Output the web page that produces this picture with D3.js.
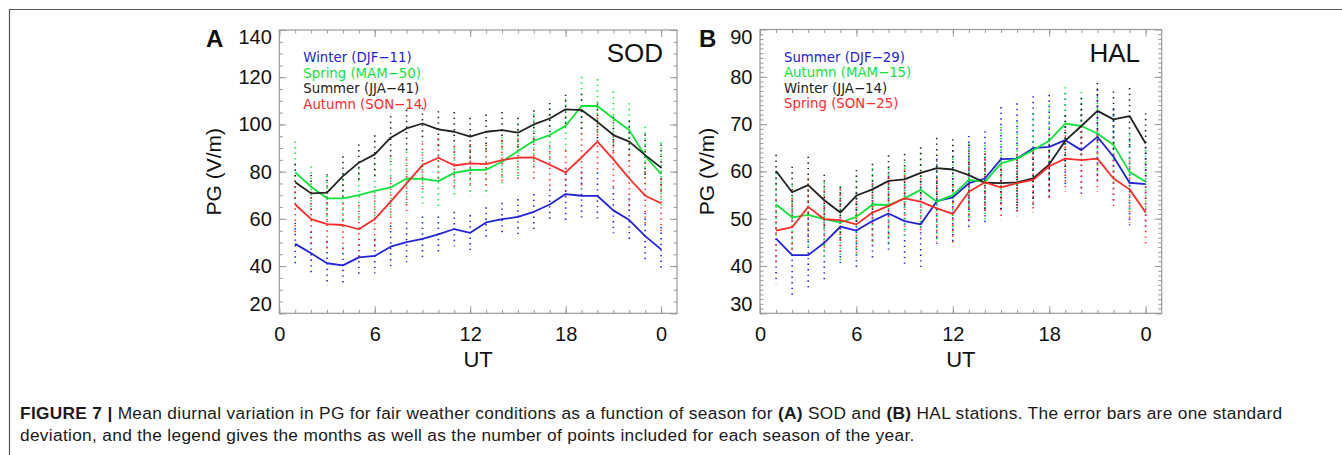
<!DOCTYPE html>
<html>
<head>
<meta charset="utf-8">
<script src="https://cdn.jsdelivr.net/npm/d3@7"></script>
<style>
  body { margin: 0; background: #fff; }
  svg { display: block; }
  .tick text { font-family: "Liberation Sans", Arial, sans-serif; font-size: 20px; fill: #111; }
</style>
</head>
<body>
<svg id="fig" width="1342" height="455"></svg>
<script>
// hours of the day (UT) at which the means are given
var hours = [1, 2, 3, 4, 5, 6, 7, 8, 9, 10, 11, 12, 13, 14, 15, 16, 17, 18, 19, 20, 21, 22, 23, 24];

// SOD station, PG (V/m)
var sodWinter = [49.4, 45.4, 41.2, 40.3, 43.7, 44.3, 48.2, 50.1, 51.5, 53.4, 55.7, 54.1, 58.5, 59.9, 60.8, 63.0, 66.1, 70.5, 69.8, 69.7, 63.6, 59.5, 52.7, 47.1];
var sodSpring = [79.7, 73.6, 68.7, 68.7, 70.1, 71.9, 73.3, 77.1, 76.9, 76.0, 79.5, 80.7, 80.8, 84.2, 88.7, 93.1, 95.5, 99.4, 107.8, 107.8, 102.5, 97.6, 86.6, 79.0];
var sodSummer = [75.5, 70.8, 71.1, 78.1, 83.8, 87.3, 94.4, 98.3, 100.4, 97.9, 96.9, 94.8, 96.9, 97.6, 96.5, 100.0, 102.5, 106.4, 106.1, 101.1, 95.5, 92.7, 87.0, 81.7];
var sodAutumn = [66.1, 59.9, 57.8, 57.4, 55.6, 59.9, 67.3, 75.0, 82.8, 85.9, 82.6, 83.5, 83.2, 84.9, 85.9, 86.0, 82.9, 79.7, 86.0, 92.7, 85.2, 77.1, 69.8, 66.6];
// SOD standard deviations
var sodWinterSd = [9, 9.2, 9.5, 7.6, 7.9, 7.3, 9, 8.5, 9.5, 7.6, 7.3, 7.5, 6.4, 6.9, 7.6, 7.5, 6.4, 11, 10.3, 10, 9.7, 9.2, 9.8, 9.5];
var sodSpringSd = [13.7, 9.2, 10, 11, 12, 12, 13, 12, 12, 12, 11, 11, 11, 11, 12, 12, 12, 12, 13, 12, 12, 12, 13, 14];
var sodSummerSd = [9, 9, 9, 9.6, 8.9, 9.3, 10.3, 9.2, 7.8, 8.9, 9.5, 9.2, 8.5, 8.8, 7.5, 7.2, 7.8, 7.4, 8, 9, 9, 10, 10, 11];
var sodAutumnSd = [12, 11, 11, 11, 12, 12, 12, 12, 11, 10, 10, 10, 10, 10, 10, 10, 10, 11, 12, 12, 12, 12, 12, 12];

// HAL station, PG (V/m)
var halSummer = [45.8, 42.3, 42.3, 44.9, 48.3, 47.5, 49.5, 51.1, 49.5, 48.8, 53.7, 54.5, 57.5, 58.5, 62.6, 62.7, 64.9, 65.2, 66.6, 64.5, 67.3, 63.1, 57.6, 57.3];
var halAutumn = [53.0, 50.3, 50.8, 49.9, 49.2, 50.4, 53.0, 52.9, 54.3, 56.1, 53.6, 55.0, 58.2, 57.8, 61.7, 62.7, 64.5, 66.5, 70.1, 69.6, 68.0, 65.6, 59.9, 57.8];
var halWinter = [60.1, 55.6, 57.1, 53.9, 51.3, 54.9, 56.2, 58.0, 58.3, 59.7, 60.7, 60.4, 59.2, 57.6, 57.5, 57.7, 58.5, 61.5, 66.5, 69.6, 72.8, 71.0, 71.7, 65.9];
var halSpring = [47.5, 48.2, 52.5, 49.9, 49.7, 48.8, 51.3, 52.7, 54.3, 53.6, 52.2, 51.0, 55.7, 57.7, 56.6, 57.5, 58.2, 61.1, 62.7, 62.4, 62.7, 58.5, 56.2, 51.3];
// HAL standard deviations
var halSummerSd = [9.5, 8.5, 7.7, 8, 8, 8, 8, 8, 9, 9, 9, 10, 10, 10, 11, 11.7, 11, 11, 10, 10, 10, 10, 9, 9];
var halAutumnSd = [7, 7, 7, 8, 8, 8, 8, 8, 8, 8, 8, 8, 8, 8, 8, 8, 8, 8, 8, 7.5, 8, 8, 8, 7];
var halWinterSd = [4, 6, 6.6, 6, 6, 6, 6, 6, 6, 6, 7, 7, 7, 6, 6, 6, 6, 6, 6, 6.5, 6.5, 6.5, 6.5, 7];
var halSpringSd = [7.5, 7, 7, 7, 7.5, 7, 7, 7, 7, 7, 7, 7, 7, 7, 7, 7, 7, 7.5, 7, 7, 7, 6, 7, 6.5];

// legends
var sodLabels = ["Winter (DJF\u221211)", "Spring (MAM\u221250)", "Summer (JJA\u221241)", "Autumn (SON\u221214)"];
var halLabels = ["Summer (DJF\u221229)", "Autumn (MAM\u221215)", "Winter (JJA\u221214)", "Spring (SON\u221225)"];

var xTicks = [0, 6, 12, 18, 24];
var xTickLabels = ["0", "6", "12", "18", "0"];
var sodYTicks = [20, 40, 60, 80, 100, 120, 140];
var halYTicks = [30, 40, 50, 60, 70, 80, 90];

var colors = ["#2323d8", "#12e23c", "#222222", "#ff2b2b"];

var svg = d3.select("#fig");
svg.append("rect").attr("width", 1342).attr("height", 455).attr("fill", "#fff");

// outer figure border (top + left)
svg.append("path").attr("d", "M9.5,455V9.5H1342").attr("fill", "none").attr("stroke", "#555").attr("stroke-width", 1.2);

function drawPanel(p) {
	var x = d3.scaleLinear().domain([0, 25]).range([p.left, p.right]);
	var y = d3.scaleLinear().domain(p.yDomain).range([p.bottom, p.top]);
	var g = svg.append("g");

	var minorX = d3.range(0, 25, 1);
	var minorY = d3.range(p.yDomain[0], p.yDomain[1], p.yMinor);

	// ticks on all four sides, pointing inwards
	var xs = [[d3.axisBottom, "translate(0," + p.bottom + ")"], [d3.axisTop, "translate(0," + p.top + ")"]];
	xs.forEach(function(a) {
		var gm = g.append("g").attr("transform", a[1]).call(a[0](x).tickValues(minorX).tickSize(-3.5).tickFormat(""));
		gm.select(".domain").remove();
		gm.selectAll("line").attr("stroke", "#999");
		var gM = g.append("g").attr("transform", a[1]).call(a[0](x).tickValues(xTicks).tickSize(-7).tickFormat(""));
		gM.select(".domain").remove();
		gM.selectAll("line").attr("stroke", "#999");
	});
	var ys = [[d3.axisLeft, "translate(" + p.left + ",0)"], [d3.axisRight, "translate(" + p.right + ",0)"]];
	ys.forEach(function(a) {
		var gm = g.append("g").attr("transform", a[1]).call(a[0](y).tickValues(minorY).tickSize(-3.5).tickFormat(""));
		gm.select(".domain").remove();
		gm.selectAll("line").attr("stroke", "#999");
		var gM = g.append("g").attr("transform", a[1]).call(a[0](y).tickValues(p.yTicks).tickSize(-7).tickFormat(""));
		gM.select(".domain").remove();
		gM.selectAll("line").attr("stroke", "#999");
	});

	// tick labels
	var bx = g.append("g").attr("transform", "translate(0," + p.bottom + ")")
		.call(d3.axisBottom(x).tickValues(xTicks).tickSize(0).tickPadding(13.5).tickFormat(function(d, i) { return xTickLabels[i]; }));
	bx.select(".domain").remove();

	var ly = g.append("g").attr("transform", "translate(" + p.left + ",0)")
		.call(d3.axisLeft(y).tickValues(p.yTicks).tickSize(0).tickPadding(7.5));
	ly.select(".domain").remove();
	// end labels kept inside the frame height
	ly.selectAll(".tick text").attr("dy", function(d) {
		if (d === p.yDomain[1]) return "0.68em";
		if (d === p.yDomain[0]) return "-0.15em";
		return "0.32em";
	});

	// frame
	g.append("rect").attr("x", p.left).attr("y", p.top)
		.attr("width", p.right - p.left).attr("height", p.bottom - p.top)
		.attr("fill", "none").attr("stroke", "#999").attr("stroke-width", 1.2);

	// dotted error bars, each series shifted in the dot pattern
	p.series.forEach(function(s, k) {
		g.append("g").selectAll("line").data(hours).join("line")
			.attr("x1", function(h) { return x(h); })
			.attr("x2", function(h) { return x(h); })
			.attr("y1", function(h, i) { return y(s.mean[i] + s.sd[i]); })
			.attr("y2", function(h, i) { return y(s.mean[i] - s.sd[i]); })
			.attr("stroke", colors[k])
			.attr("stroke-width", 1.6)
			.attr("stroke-dasharray", "1.4,4.2")
			.attr("stroke-dashoffset", -1.4 * k);
	});

	var line = d3.line().x(function(d) { return x(d[0]); }).y(function(d) { return y(d[1]); });
	p.series.forEach(function(s, k) {
		g.append("path")
			.datum(hours.map(function(h, i) { return [h, s.mean[i]]; }))
			.attr("d", line)
			.attr("fill", "none")
			.attr("stroke", colors[k])
			.attr("stroke-width", 1.8)
			.attr("stroke-linejoin", "round");
	});

	// legend
	g.append("g").selectAll("text").data(p.labels).join("text")
		.attr("x", p.left + 24)
		.attr("y", function(d, i) { return p.top + 32 + i * 15.5; })
		.attr("fill", function(d, i) { return colors[i]; })
		.style("font-family", "'DejaVu Sans', sans-serif")
		.style("font-size", "13.3px")
		.text(function(d) { return d; });

	// station name
	g.append("text").attr("x", p.stationX).attr("y", 61.5)
		.attr("text-anchor", "end")
		.style("font-family", "'Liberation Sans', Arial, sans-serif")
		.style("font-size", "26px").attr("fill", "#111")
		.text(p.station);

	// panel letter
	g.append("text").attr("x", p.letterX).attr("y", 47)
		.style("font-family", "'Liberation Sans', Arial, sans-serif")
		.style("font-size", "24px").style("font-weight", "bold").attr("fill", "#111")
		.text(p.letter);

	// axis titles
	g.append("text").attr("x", (p.left + p.right) / 2).attr("y", 366.5)
		.attr("text-anchor", "middle")
		.style("font-family", "'Liberation Sans', Arial, sans-serif")
		.style("font-size", "22px").attr("fill", "#111")
		.text("UT");
	g.append("text")
		.attr("transform", "translate(" + p.titleX + "," + ((p.top + p.bottom) / 2) + ") rotate(-90)")
		.attr("text-anchor", "middle")
		.style("font-family", "'Liberation Sans', Arial, sans-serif")
		.style("font-size", "21px").attr("fill", "#111")
		.text("PG (V/m)");
}

drawPanel({
	left: 279.3, right: 677, top: 30, bottom: 313.3,
	yDomain: [20, 140], yTicks: sodYTicks, yMinor: 5,
	series: [
		{ mean: sodWinter, sd: sodWinterSd },
		{ mean: sodSpring, sd: sodSpringSd },
		{ mean: sodSummer, sd: sodSummerSd },
		{ mean: sodAutumn, sd: sodAutumnSd }
	],
	labels: sodLabels, station: "SOD", stationX: 663, letter: "A", letterX: 206, titleX: 221
});

drawPanel({
	left: 760, right: 1161.7, top: 29.5, bottom: 313.3,
	yDomain: [30, 90], yTicks: halYTicks, yMinor: 1,
	series: [
		{ mean: halSummer, sd: halSummerSd },
		{ mean: halAutumn, sd: halAutumnSd },
		{ mean: halWinter, sd: halWinterSd },
		{ mean: halSpring, sd: halSpringSd }
	],
	labels: halLabels, station: "HAL", stationX: 1140, letter: "B", letterX: 699, titleX: 714
});

// caption
var cap = svg.append("g").style("font-family", "'Liberation Sans', Arial, sans-serif")
	.style("font-size", "17.3px").style("letter-spacing", "0.32px").attr("fill", "#1a1a1a");
var c1 = cap.append("text").attr("x", 20).attr("y", 418.5);
c1.append("tspan").style("font-weight", "bold").text("FIGURE 7 | ");
c1.append("tspan").text("Mean diurnal variation in PG for fair weather conditions as a function of season for ");
c1.append("tspan").style("font-weight", "bold").text("(A)");
c1.append("tspan").text(" SOD and ");
c1.append("tspan").style("font-weight", "bold").text("(B)");
c1.append("tspan").text(" HAL stations. The error bars are one standard");
cap.append("text").attr("x", 20).attr("y", 441)
	.text("deviation, and the legend gives the months as well as the number of points included for each season of the year.");
</script>
</body>
</html>
